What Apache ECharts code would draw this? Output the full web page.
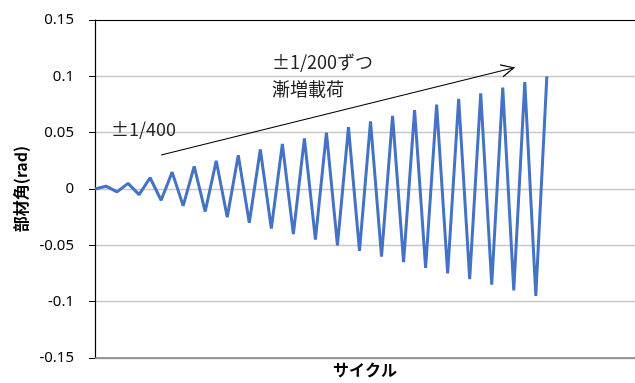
<!DOCTYPE html>
<html><head><meta charset="utf-8">
<script src="https://cdn.jsdelivr.net/npm/echarts@6/dist/echarts.min.js"></script>
<style>html,body{margin:0;padding:0;background:#fff}#c{width:635px;height:383px}</style>
</head><body><div id="c"></div>
<script>
// cycle index categories (axis extends beyond the last loaded cycle)
const cycles = Array.from({length: 50}, (_, i) => String(i));
// member rotation angle (rad)
const rotation = [0, 0.0025, -0.0025, 0.005, -0.005, 0.01, -0.01, 0.015, -0.015, 0.02, -0.02,
  0.025, -0.025, 0.03, -0.03, 0.035, -0.035, 0.04, -0.04, 0.045, -0.045, 0.05, -0.05,
  0.055, -0.055, 0.06, -0.06, 0.065, -0.065, 0.07, -0.07, 0.075, -0.075, 0.08, -0.08,
  0.085, -0.085, 0.09, -0.09, 0.095, -0.095, 0.1];
const yTicks = [-0.15, -0.1, -0.05, 0, 0.05, 0.1, 0.15];
const xTitle = 'サイクル';
const yTitle = '部材角(rad)';
const note1 = '±1/400';
const note2a = '±1/200ずつ';
const note2b = '漸増載荷';
// arrow endpoints in data space [category index, value]
const arrowFrom = [5.9, 0.0302];
const arrowTo = [37.5, 0.1076];

const chart = echarts.init(document.getElementById('c'), null, {renderer: 'canvas'});
const FONT = '"Noto Sans CJK JP", "Noto Sans", sans-serif';
chart.setOption({
  animation: false,
  backgroundColor: '#fff',
  grid: {left: 95, right: 0, top: 20, bottom: 25, outerBoundsMode: 'none', containLabel: false},
  xAxis: [{
    type: 'category', data: cycles, boundaryGap: false, position: 'bottom',
    axisLine: {onZero: false, lineStyle: {color: '#7f7f7f', width: 1.5}},
    axisTick: {show: false}, axisLabel: {show: false}, splitLine: {show: false},
    name: xTitle, nameLocation: 'middle', nameGap: 4,
    nameTextStyle: {fontFamily: FONT, fontWeight: 'bold', fontSize: 16, color: '#000'}
  }, {
    type: 'category', data: cycles, boundaryGap: false, position: 'top',
    axisLine: {onZero: false, lineStyle: {color: '#000', width: 1.2}},
    axisTick: {show: false}, axisLabel: {show: false}, splitLine: {show: false}
  }],
  yAxis: {
    type: 'value', min: yTicks[0], max: yTicks[yTicks.length - 1], interval: 0.05,
    axisLine: {show: true, onZero: false, lineStyle: {color: '#000', width: 1.2}},
    axisTick: {show: true, length: 6, inside: false, lineStyle: {color: '#000'}},
    axisLabel: {color: '#000', fontSize: 15, margin: 21, fontFamily: '"Noto Sans", sans-serif',
      formatter: v => String(Math.round(v * 1000) / 1000)},
    splitLine: {lineStyle: {color: '#c8c8c8', width: 1.3}},
    name: yTitle, nameLocation: 'middle', nameGap: 64, nameRotate: 90,
    nameTextStyle: {fontFamily: FONT, fontWeight: 'bold', fontSize: 16, color: '#000'}
  },
  series: [{
    type: 'line', data: rotation, symbol: 'none',
    lineStyle: {color: '#4472C4', width: 3}, itemStyle: {color: '#4472C4'}
  }]
});

function drawNotes() {
  const p0 = chart.convertToPixel({gridIndex: 0}, arrowFrom);
  const p1 = chart.convertToPixel({gridIndex: 0}, arrowTo);
  const ang = Math.atan2(p1[1] - p0[1], p1[0] - p0[0]);
  const L = 14, a = 0.45;
  const h1 = [p1[0] - L * Math.cos(ang - a), p1[1] - L * Math.sin(ang - a)];
  const h2 = [p1[0] - L * Math.cos(ang + a), p1[1] - L * Math.sin(ang + a)];
  const ts = {fontFamily: FONT, fontSize: 18, fill: '#222'};
  chart.setOption({graphic: [
    {type: 'line', shape: {x1: p0[0], y1: p0[1], x2: p1[0], y2: p1[1]}, style: {stroke: '#000', lineWidth: 1.2}, z: 10},
    {type: 'polyline', shape: {points: [h1, p1, h2]}, style: {stroke: '#000', lineWidth: 1.2, fill: null}, z: 10},
    {type: 'text', left: 111, top: 120, style: Object.assign({text: note1}, ts), z: 10},
    {type: 'text', left: 272, top: 53, style: Object.assign({text: note2a}, ts), z: 10},
    {type: 'text', left: 272, top: 80, style: Object.assign({text: note2b}, ts), z: 10}
  ]});
}
drawNotes();
</script></body></html>
